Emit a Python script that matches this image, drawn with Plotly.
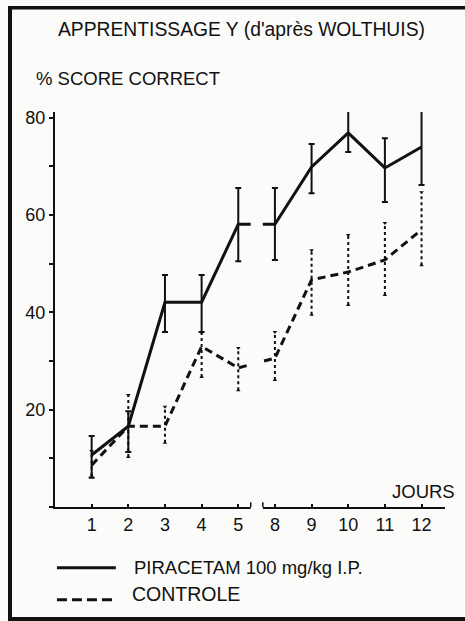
import plotly.graph_objects as go

# ---- data ----
days = ["1", "2", "3", "4", "5", "8", "9", "10", "11", "12"]
piracetam = [10.7, 16.6, 42.1, 42.1, 58.1, 58.1, 69.9, 76.9, 69.7, 74.0]
piracetam_hi = [14.6, 19.7, 47.7, 47.7, 65.6, 65.6, 74.6, 81.6, 75.8, 82.6]
piracetam_lo = [6.0, 11.3, 36.0, 36.0, 50.5, 50.8, 64.5, 73.0, 62.7, 66.2]
controle = [8.6, 16.6, 16.6, 33.0, 28.6, 30.6, 46.7, 48.3, 50.8, 57.0]
controle_hi = [11.5, 23.0, 20.6, 35.8, 32.7, 36.0, 52.8, 55.9, 58.4, 64.7]
controle_lo = [6.5, 10.3, 13.2, 26.7, 24.0, 26.1, 39.5, 41.5, 43.6, 49.7]
y_ticks = [20, 40, 60, 80]

BG = "#fbfbf9"
INK = "#111111"
FONT = "Liberation Sans"

fig = go.Figure()

# control dotted error bars
ex, ey = [], []
for d, lo, hi in zip(days, controle_lo, controle_hi):
    ex += [d, d, None]
    ey += [lo, hi, None]
fig.add_trace(go.Scatter(x=ex, y=ey, mode="lines",
                         line=dict(color=INK, width=2, dash="dot"),
                         hoverinfo="skip", showlegend=False, cliponaxis=False))
fig.add_trace(go.Scatter(x=days, y=controle_hi, mode="markers",
                         marker=dict(symbol="triangle-down", size=4, color=INK),
                         hoverinfo="skip", showlegend=False, cliponaxis=False))
fig.add_trace(go.Scatter(x=days, y=controle_lo, mode="markers",
                         marker=dict(symbol="triangle-up", size=4, color=INK),
                         hoverinfo="skip", showlegend=False, cliponaxis=False))

# control line
fig.add_trace(go.Scatter(x=days, y=controle, mode="lines", name="CONTROLE",
                         line=dict(color=INK, width=3, dash="8px,5px"),
                         showlegend=False, cliponaxis=False))

# piracetam line with solid error bars
fig.add_trace(go.Scatter(
    x=days, y=piracetam, mode="lines", name="PIRACETAM 100 mg/kg I.P.",
    line=dict(color=INK, width=3),
    error_y=dict(type="data", symmetric=False,
                 array=[h - v for h, v in zip(piracetam_hi, piracetam)],
                 arrayminus=[v - l for v, l in zip(piracetam, piracetam_lo)],
                 thickness=2, width=3, color=INK),
    showlegend=False, cliponaxis=False))

# break in the time axis (days 5 -> 8)
fig.add_shape(type="rect", xref="x", yref="paper", x0=4.34, x1=4.67,
              y0=-0.02, y1=1.0, fillcolor=BG, line=dict(width=0), layer="above")
for xb in (4.34, 4.67):
    fig.add_shape(type="line", xref="x", yref="paper", x0=xb, x1=xb,
                  y0=0.0, y1=0.012, line=dict(color=INK, width=1.5), layer="above")

# frame of the figure
fig.add_shape(type="line", xref="paper", yref="paper", x0=-0.1154, x1=-0.1154,
              y0=-0.2835, y1=1.266, line=dict(color=INK, width=4))
fig.add_shape(type="line", xref="paper", yref="paper", x0=-0.1205, x1=1.06,
              y0=-0.2835, y1=-0.2835, line=dict(color=INK, width=4))
fig.add_shape(type="line", xref="paper", yref="paper", x0=-0.1205, x1=1.06,
              y0=1.264, y1=1.264, line=dict(color=INK, width=3.5))

# legend (drawn by hand to match the reference)
fig.add_shape(type="line", xref="paper", yref="paper", x0=0.005, x1=0.156,
              y0=-0.154, y1=-0.154, line=dict(color=INK, width=3))
fig.add_shape(type="line", xref="paper", yref="paper", x0=0.005, x1=0.156,
              y0=-0.235, y1=-0.235, line=dict(color=INK, width=3, dash="10px,5px"))

txt = dict(family=FONT, size=18.5, color=INK)
fig.add_annotation(text="PIRACETAM 100 mg/kg I.P.", xref="paper", yref="paper",
                   x=0.197, y=-0.152, xanchor="left", yanchor="middle",
                   showarrow=False, font=txt)
fig.add_annotation(text="CONTROLE", xref="paper", yref="paper",
                   x=0.192, y=-0.220, xanchor="left", yanchor="middle",
                   showarrow=False, font=dict(family=FONT, size=19.5, color=INK))
fig.add_annotation(text="APPRENTISSAGE Y (d'après WOLTHUIS)", xref="paper", yref="paper",
                   x=0.477, y=1.208, xanchor="center", yanchor="middle",
                   showarrow=False, font=dict(family=FONT, size=19.3, color=INK))
fig.add_annotation(text="% SCORE CORRECT", xref="paper", yref="paper",
                   x=-0.054, y=1.086, xanchor="left", yanchor="middle",
                   showarrow=False, font=txt)
fig.add_annotation(text="JOURS", xref="paper", yref="paper",
                   x=1.030, y=0.038, xanchor="right", yanchor="middle",
                   showarrow=False, font=txt)

fig.update_layout(
    width=465, height=621,
    margin=dict(l=55, r=20, t=112, b=114),
    paper_bgcolor=BG, plot_bgcolor=BG,
    showlegend=False,
    font=dict(family=FONT, size=18, color=INK),
    xaxis=dict(type="category", categoryorder="array", categoryarray=days,
               range=[-1, 9.64], showgrid=False, zeroline=False,
               showline=True, linecolor=INK, linewidth=2,
               ticks="inside", ticklen=3, tickwidth=1.5, tickcolor=INK,
               tickfont=dict(family=FONT, size=18, color=INK)),
    yaxis=dict(range=[0, 81.2], showgrid=False, zeroline=False,
               showline=True, linecolor=INK, linewidth=2,
               tickvals=y_ticks, ticks="outside", ticklen=4, tickwidth=1.5,
               tickcolor=INK,
               minor=dict(dtick=10, tick0=0, ticks="outside", ticklen=4,
                          tickwidth=1.5, tickcolor=INK, showgrid=False),
               tickfont=dict(family=FONT, size=18, color=INK)),
)

fig.write_html("out.html",
               config={"displayModeBar": False},
               post_script="document.body.style.margin='0';document.body.style.overflow='hidden';")
